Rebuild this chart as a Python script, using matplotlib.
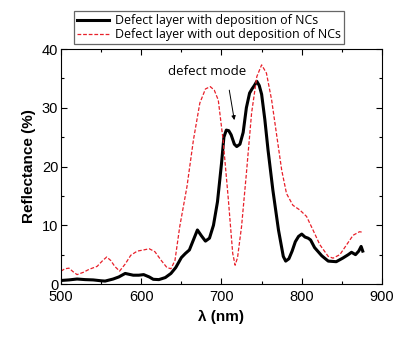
import matplotlib
matplotlib.use("Agg")
import matplotlib.pyplot as plt
from matplotlib.ticker import MultipleLocator

plt.rcParams['font.family'] = ['Liberation Sans', 'DejaVu Sans']

# reflectance spectra (wavelength nm, reflectance %)
wl_with = [500, 510, 520, 530, 540, 550, 555, 565, 572, 580, 590, 597, 603, 610, 615,
           622, 630, 637, 643, 650, 655, 660, 665, 670, 675, 680, 685, 690, 695, 700,
           703, 706, 709, 712, 716, 719, 723, 727, 731, 735, 738, 741, 744, 747, 750,
           754, 758, 764, 771, 777, 780, 784, 788, 792, 796, 800, 804, 808, 811, 816,
           825, 833, 843, 851, 858, 862, 867, 871, 874, 876]
r_with = [0.6, 0.7, 0.85, 0.75, 0.7, 0.55, 0.5, 0.85, 1.2, 1.8, 1.5, 1.5, 1.6, 1.2, 0.8,
          0.75, 1.1, 1.8, 2.8, 4.5, 5.2, 5.8, 7.5, 9.2, 8.2, 7.3, 7.8, 10.0, 14.0, 20.5,
          25.0, 26.2, 26.1, 25.4, 23.8, 23.4, 23.8, 25.8, 30.0, 32.5, 33.2, 33.8, 34.5, 33.8, 32.3,
          28.0, 22.8, 16.0, 9.2, 4.7, 3.9, 4.3, 5.6, 7.2, 8.1, 8.5, 8.0, 7.8, 7.5, 6.2,
          4.8, 3.9, 3.8, 4.4, 5.0, 5.4, 5.0, 5.6, 6.4, 5.6]

wl_without = [500, 505, 510, 515, 520, 528, 535, 545, 552, 557, 562, 567, 573, 580, 587,
              595, 603, 610, 617, 625, 632, 637, 642, 648, 657, 665, 673, 680, 686, 691,
              696, 702, 708.6, 712, 714, 717, 720, 725, 731, 737.5, 744, 750, 756, 762.5, 769,
              775, 781, 789, 797.6, 806, 814, 822.5, 833, 839, 847.5, 856, 864, 872, 876.5]
r_without = [2.2, 2.6, 2.7, 2.1, 1.6, 2.0, 2.5, 3.0, 4.0, 4.6, 4.0, 3.0, 2.2, 3.4, 4.9,
             5.6, 5.8, 6.0, 5.5, 4.0, 2.8, 2.6, 4.0, 9.8, 16.6, 24.5, 30.8, 33.2, 33.6, 33.0,
             31.3, 24.5, 14.3, 8.5, 5.2, 3.2, 4.5, 9.8, 18.8, 29.1, 35.3, 37.3, 35.9, 31.3, 25.1,
             19.4, 15.4, 13.4, 12.6, 11.5, 9.2, 6.7, 4.7, 4.4, 5.0, 6.7, 8.3, 8.9, 8.8]

fig = plt.figure(figsize=(3.93, 3.39), dpi=100)
ax = fig.add_axes([0.1552, 0.1622, 0.8168, 0.6932])

ax.plot(wl_with, r_with, color='black', lw=2.2,
        label='Defect layer with deposition of NCs')
ax.plot(wl_without, r_without, color='#e8202a', lw=0.9, ls=(0, (3, 1.5)),
        label='Defect layer with out deposition of NCs')

ax.set_xlim(500, 900)
ax.set_ylim(0, 40)
ax.xaxis.set_major_locator(MultipleLocator(100))
ax.xaxis.set_minor_locator(MultipleLocator(50))
ax.yaxis.set_major_locator(MultipleLocator(10))
ax.yaxis.set_minor_locator(MultipleLocator(5))
ax.tick_params(which='both', direction='in', top=True, right=True, width=0.8)
ax.tick_params(which='major', length=4, labelsize=10.5, pad=2)
ax.tick_params(axis='x', which='major', pad=4.5)
ax.tick_params(which='minor', length=2)
for s in ax.spines.values():
    s.set_linewidth(0.8)

ax.set_xlabel('λ (nm)', fontsize=11, fontweight='bold', labelpad=4)
ax.set_ylabel('Reflectance (%)', fontsize=11, fontweight='bold', labelpad=4)

# label and arrow pointing at the defect mode dip
ax.text(682, 36.1, 'defect mode', ha='center', va='center', fontsize=9.5,
        family=['Open Sans', 'DejaVu Sans'])
ax.annotate('', xy=(716, 27.9), xytext=(709.7, 33.0),
            arrowprops=dict(arrowstyle='-|>', color='black', lw=0.7,
                            mutation_scale=6, shrinkA=0, shrinkB=0))

leg = fig.legend(loc='upper center', bbox_to_anchor=(0.532, 0.985),
                 frameon=True, fancybox=False, edgecolor='0.25', handlelength=2.6,
                 borderpad=0.25, labelspacing=0.05, handletextpad=0.5,
                 prop={'family': ['Open Sans', 'DejaVu Sans'], 'size': 8.9})
leg.get_frame().set_linewidth(0.9)

fig.savefig('out.png', dpi=100)
